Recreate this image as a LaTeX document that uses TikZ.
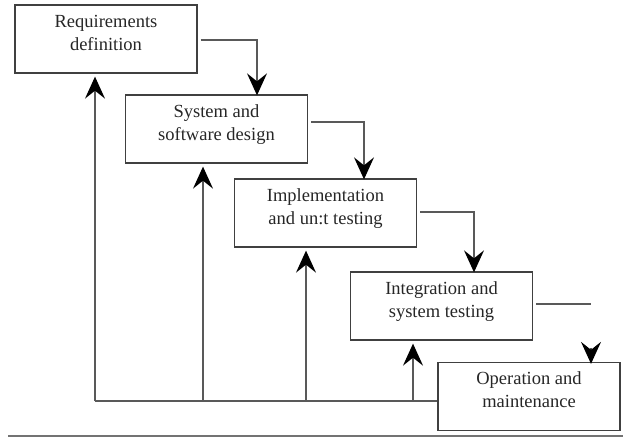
\documentclass[tikz,border=0pt]{standalone}
\usepackage{fontspec}
\setmainfont{Liberation Serif}
\usetikzlibrary{arrows.meta,calc}
\tikzset{
  phase/.style={draw=black!75, line width=1.3pt, minimum width=182pt, minimum height=68pt,
    align=center, font=\fontsize{18.5}{23}\selectfont, text=black!85, text depth=13pt},
  flow/.style={draw=black!65, line width=1.3pt},
  arrow/.style={flow, -{Stealth[length=22pt,width=20pt,inset=8pt,black]}},
}

\begin{document}
\begin{tikzpicture}[x=1pt, y=-1pt]
\useasboundingbox (0,0) rectangle (637,438);

% Phases
\node[phase] (req)  at (106,39)    {Requirements\\definition};
\node[phase] (des)  at (216.5,129) {System and\\software design};
\node[phase] (impl) at (325.5,213) {Implementation\\and un:t testing};
\node[phase] (integ) at (441.5,306) {Integration and\\system testing};
\node[phase] (oper) at (529,396.5) {Operation and\\maintenance};

% Cascade down
\draw[arrow] ([xshift=3pt,yshift=-1pt]req.east) -| ([xshift=40.5pt,yshift=-1pt]des.north);
\draw[arrow] ([xshift=3pt,yshift=7pt]des.east) -| ([xshift=38.5pt,yshift=-1pt]impl.north);
\draw[arrow] ([xshift=3pt,yshift=1pt]impl.east) -| ([xshift=32.5pt,yshift=-1pt]integ.north);
\draw[flow] ([xshift=3pt,yshift=2pt]integ.east) -- ++(55,0);
\coordinate (tipend) at ([xshift=62pt,yshift=-2pt]oper.north);
\draw[arrow] ($(tipend)+(0,-16)$) -- (tipend);

% Feedback
\coordinate (fb) at (95,401);
\draw[flow] (fb) -- (fb -| oper.west);
\foreach \n/\x in {req/95, des/203, impl/306, integ/413}
  \draw[arrow] (\x,401) -- ($(\x,0 |- \n.south)+(0,3)$);

% Rule
\draw[black!55, line width=2pt] (8,436) -- (623,436);
\end{tikzpicture}
\end{document}
